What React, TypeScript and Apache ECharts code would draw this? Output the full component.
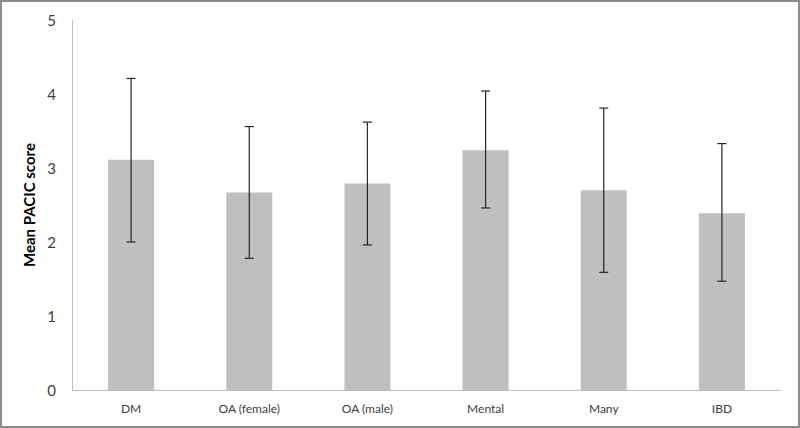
import React, { useEffect, useRef } from "react";
import * as echarts from "echarts";

const categories = ["DM", "OA (female)", "OA (male)", "Mental", "Many", "IBD"];
const means = [3.11, 2.67, 2.79, 3.24, 2.7, 2.39];
const lower = [2.0, 1.78, 1.96, 2.46, 1.59, 1.47];
const upper = [4.21, 3.56, 3.62, 4.04, 3.81, 3.33];
const yTicks = [0, 1, 2, 3, 4, 5];

export default function App() {
  const ref = useRef<HTMLDivElement>(null);
  useEffect(() => {
    if (!ref.current) return;
    const chart = echarts.init(ref.current, null, { renderer: "svg" });
    const errData = categories.map((_, i) => [i, lower[i], upper[i]]);
    chart.setOption({
      animation: false,
      backgroundColor: "#ffffff",
      grid: { left: 70, right: 17, top: 18, bottom: 36 },
      xAxis: {
        type: "category",
        data: categories,
        axisLine: { show: true, lineStyle: { color: "#bfbfbf", width: 1 } },
        axisTick: { show: false },
        axisLabel: { color: "#404040", fontSize: 12, fontFamily: "Lato", margin: 12 },
      },
      yAxis: {
        type: "value",
        min: yTicks[0],
        max: yTicks[yTicks.length - 1],
        interval: 1,
        name: "Mean PACIC score",
        nameLocation: "middle",
        nameGap: 30,
        nameTextStyle: { color: "#000", fontSize: 15, fontWeight: "bold", fontFamily: "Lato" },
        axisLine: { show: true, lineStyle: { color: "#bfbfbf", width: 1 } },
        axisTick: { show: false },
        splitLine: { show: false },
        axisLabel: { color: "#404040", fontSize: 15, fontFamily: "Lato", margin: 16 },
      },
      series: [
        {
          type: "bar",
          data: means,
          barWidth: 46,
          itemStyle: { color: "#bfbfbf" },
        },
        {
          type: "custom",
          data: errData,
          z: 10,
          renderItem: (params: any, api: any) => {
            const x = api.value(0);
            const lo = api.coord([x, api.value(1)]);
            const hi = api.coord([x, api.value(2)]);
            const hw = 4.5;
            const style = { stroke: "#262626", lineWidth: 1.2 };
            return {
              type: "group",
              children: [
                { type: "line", shape: { x1: hi[0], y1: hi[1], x2: lo[0], y2: lo[1] }, style },
                { type: "line", shape: { x1: hi[0] - hw, y1: hi[1], x2: hi[0] + hw, y2: hi[1] }, style },
                { type: "line", shape: { x1: lo[0] - hw, y1: lo[1], x2: lo[0] + hw, y2: lo[1] }, style },
              ],
            };
          },
        },
      ],
    });
    return () => chart.dispose();
  }, []);
  return (
    <div
      style={{
        position: "fixed",
        left: 0,
        top: 0,
        width: 800,
        height: 428,
        boxSizing: "border-box",
        border: "2px solid #8c8c8c",
        background: "#fff",
      }}
    >
      <div ref={ref} style={{ width: 796, height: 424 }} />
    </div>
  );
}
